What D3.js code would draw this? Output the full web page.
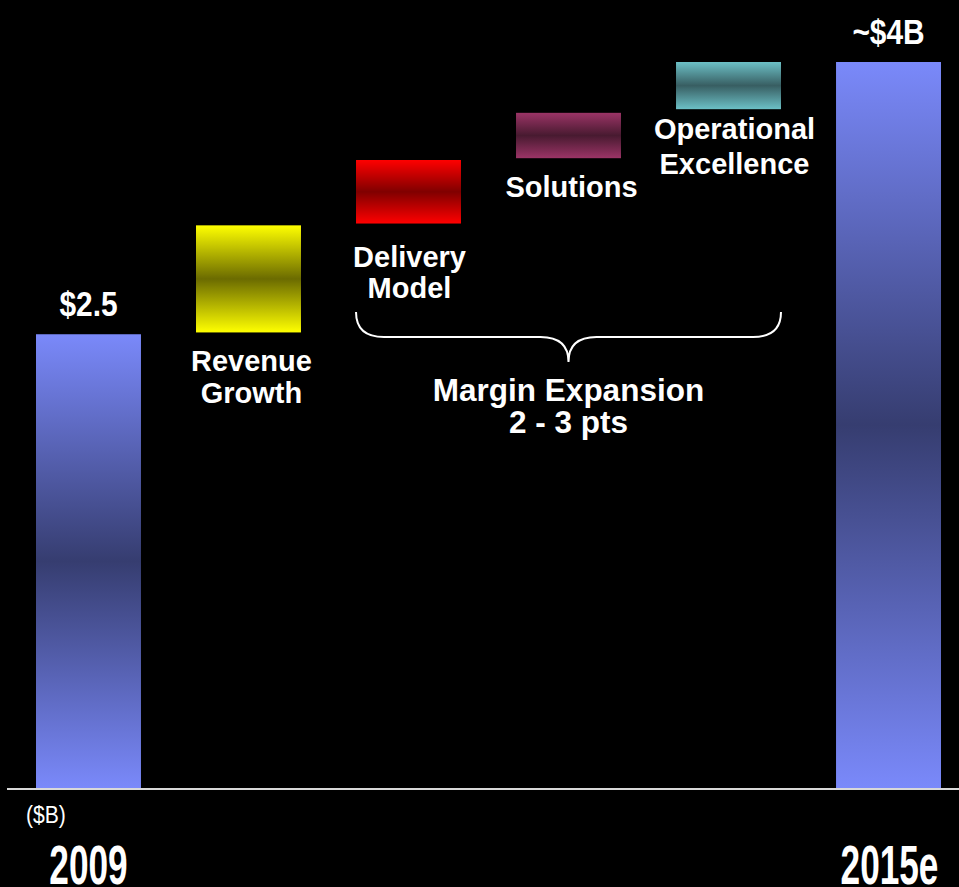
<!DOCTYPE html>
<html>
<head>
<meta charset="utf-8">
<script src="https://cdn.jsdelivr.net/npm/d3@7"></script>
<style>
  html, body { margin: 0; padding: 0; background: #000; }
  svg { display: block; }
</style>
</head>
<body>
<div id="chart"></div>
<script>
// Waterfall data ($B)
const categories = ["2009", "Revenue Growth", "Delivery Model", "Solutions", "Operational Excellence", "2015e"]
const labelLines = [[], ["Revenue", "Growth"], ["Delivery", "Model"], ["Solutions"], ["Operational", "Excellence"], []]
const startValues = [0, 2.51, 3.11, 3.47, 3.74, 0]
const endValues = [2.5, 3.10, 3.46, 3.72, 4.0, 4.0]
const totalLabels = ["$2.5", "", "", "", "", "~$4B"]
const bracketText = ["Margin Expansion", "2 - 3 pts"]

const width = 959
const height = 887

// top / middle colours for each bar's vertical gradient
const barColors = [
  ["#7a89fa", "#363d70"],
  ["#ffff00", "#6b6b00"],
  ["#ff0000", "#800000"],
  ["#9b3466", "#481a30"],
  ["#6cc0c6", "#385e62"],
  ["#7a89fa", "#363d70"]
]

const svg = d3.select("#chart")
  .append("svg")
  .attr("width", width)
  .attr("height", height)
  .style("background", "#000")

const x = d3.scaleBand()
  .domain(categories)
  .range([36, 941])
  .paddingInner(0.344)
  .paddingOuter(0)

const y = d3.scaleLinear()
  .domain([0, 4])
  .range([788, 62])

// gradients
const defs = svg.append("defs")
barColors.forEach((c, i) => {
  const grad = defs.append("linearGradient")
    .attr("id", "grad" + i)
    .attr("x1", 0).attr("y1", 0).attr("x2", 0).attr("y2", 1)
  grad.append("stop").attr("offset", "0%").attr("stop-color", c[0])
  grad.append("stop").attr("offset", "50%").attr("stop-color", c[1])
  grad.append("stop").attr("offset", "100%").attr("stop-color", c[0])
})

const bars = categories.map((c, i) => ({ cat: c, start: startValues[i], end: endValues[i], i }))

svg.append("g")
  .selectAll("rect")
  .data(bars)
  .join("rect")
  .attr("x", d => x(d.cat))
  .attr("y", d => y(d.end))
  .attr("width", x.bandwidth())
  .attr("height", d => y(d.start) - y(d.end))
  .attr("fill", d => `url(#grad${d.i})`)

// baseline
svg.append("line")
  .attr("x1", 7)
  .attr("x2", width)
  .attr("y1", y(0) + 1)
  .attr("y2", y(0) + 1)
  .attr("stroke", "#d8d8d8")
  .attr("stroke-width", 2)

const sans = "'Liberation Sans', Arial, Helvetica, sans-serif"

// total labels on top of the end bars (condensed look via scaleX)
svg.append("g")
  .selectAll("text")
  .data(bars.filter(d => totalLabels[d.i]))
  .join("text")
  .attr("transform", d => `translate(${x(d.cat) + x.bandwidth() / 2},${y(d.end) - 18}) scale(0.83,1)`)
  .attr("text-anchor", "middle")
  .attr("fill", "#fff")
  .attr("font-family", sans)
  .attr("font-weight", "bold")
  .attr("font-size", "36px")
  .text(d => totalLabels[d.i])

// step labels under floating bars
const labelOffset = { "Revenue Growth": [3, 39, 32], "Delivery Model": [1, 43, 31], "Solutions": [3, 39, 31], "Operational Excellence": [6, 30, 35] }

const lbl = svg.append("g")
bars.filter(d => labelLines[d.i].length).forEach(d => {
  const off = labelOffset[d.cat]
  const t = lbl.append("text")
    .attr("text-anchor", "middle")
    .attr("fill", "#fff")
    .attr("font-family", sans)
    .attr("font-weight", "bold")
    .attr("font-size", "29px")
  labelLines[d.i].forEach((line, k) => {
    t.append("tspan")
      .attr("x", x(d.cat) + x.bandwidth() / 2 + off[0])
      .attr("y", y(d.start) + off[1] + k * off[2])
      .text(line)
  })
})

// brace over the margin expansion steps
const bx0 = x("Delivery Model")
const bx1 = x("Operational Excellence") + x.bandwidth()
const bxm = (bx0 + bx1) / 2
const by0 = 312, by1 = 337, by2 = 362
const brace = d3.path()
brace.moveTo(bx0, by0)
brace.quadraticCurveTo(bx0, by1, bx0 + 28, by1)
brace.lineTo(bxm - 28, by1)
brace.quadraticCurveTo(bxm, by1, bxm, by2)
brace.quadraticCurveTo(bxm, by1, bxm + 28, by1)
brace.lineTo(bx1 - 28, by1)
brace.quadraticCurveTo(bx1, by1, bx1, by0)

svg.append("path")
  .attr("d", brace.toString())
  .attr("fill", "none")
  .attr("stroke", "#fff")
  .attr("stroke-width", 2)

const bt = svg.append("text")
  .attr("text-anchor", "middle")
  .attr("fill", "#fff")
  .attr("font-family", sans)
  .attr("font-weight", "bold")
  .attr("font-size", "31.5px")
bracketText.forEach((line, k) => {
  bt.append("tspan")
    .attr("x", bxm)
    .attr("y", 401 + k * 32)
    .text(line)
})

// unit note
svg.append("text")
  .attr("transform", "translate(26,823) scale(0.88,1)")
  .attr("fill", "#fff")
  .attr("font-family", sans)
  .attr("font-size", "24px")
  .text("($B)")

// year axis labels (tall condensed)
svg.append("g")
  .selectAll("text")
  .data([categories[0], categories[categories.length - 1]])
  .join("text")
  .attr("transform", d => `translate(${x(d) + x.bandwidth() / 2 + (d === "2009" ? 0 : 1)},884) scale(0.64,1)`)
  .attr("text-anchor", "middle")
  .attr("fill", "#fff")
  .attr("font-family", sans)
  .attr("font-weight", "bold")
  .attr("font-size", "55px")
  .text(d => d)
</script>
</body>
</html>
